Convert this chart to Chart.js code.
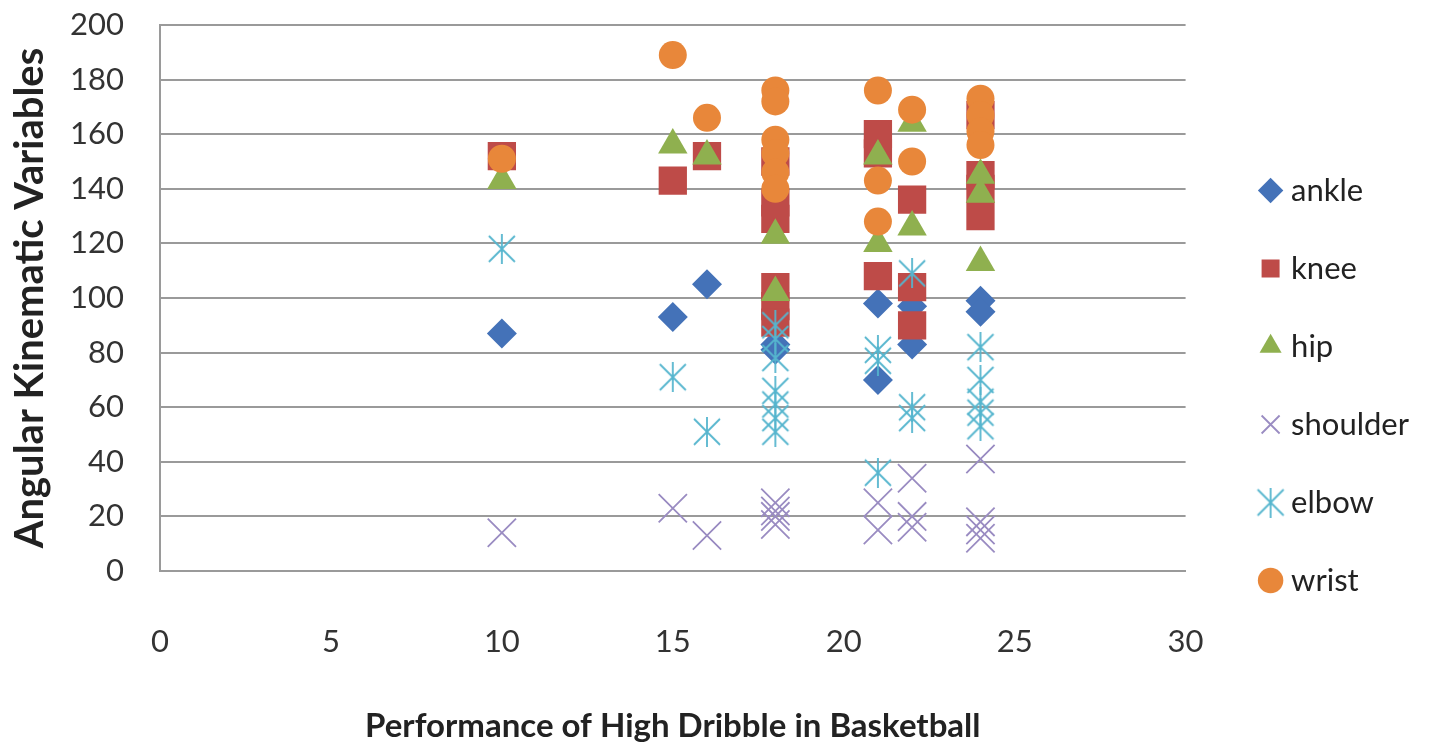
<!DOCTYPE html>
<html>
<head>
<meta charset="utf-8">
<script src="https://cdn.jsdelivr.net/npm/chart.js@4/dist/chart.umd.min.js"></script>
<style>
  html, body { margin: 0; padding: 0; background: #fff; }
  #wrap { width: 1435px; height: 746px; }
</style>
</head>
<body>
<div id="wrap"><canvas id="chart"></canvas></div>
<script>
// --- DATA ---
const ankleX = [10, 15, 16, 18, 18, 21, 21, 22, 22, 24, 24];
const ankleY = [87, 93, 105, 83, 81, 98, 70, 97, 83, 99, 95];

const kneeX = [10, 15, 16, 18, 18, 18, 18, 18, 18, 21, 21, 21, 22, 22, 22, 24, 24, 24, 24];
const kneeY = [152, 143, 152, 150, 135, 129, 104, 97, 91, 160, 153, 108, 136, 104, 90, 167, 145, 140, 130];

const hipX = [10, 15, 16, 18, 18, 21, 21, 22, 22, 24, 24, 24];
const hipY = [143, 156, 152, 123, 102, 152, 120, 164, 126, 145, 138, 113];

const shoulderX = [10, 15, 16, 18, 18, 18, 18, 21, 21, 22, 22, 22, 24, 24, 24, 24];
const shoulderY = [14, 23, 13, 25, 22, 20, 17, 25, 15, 34, 20, 16, 41, 18, 15, 12];

const elbowX = [10, 15, 16, 18, 18, 18, 18, 18, 18, 18, 21, 21, 21, 22, 22, 22, 24, 24, 24, 24, 24];
const elbowY = [118, 71, 51, 90, 85, 78, 66, 61, 56, 51, 81, 77, 36, 109, 60, 56, 82, 70, 62, 58, 53];

const wristX = [10, 15, 16, 18, 18, 18, 18, 18, 18, 21, 21, 21, 22, 22, 24, 24, 24, 24];
const wristY = [151, 189, 166, 176, 172, 158, 153, 146, 140, 176, 143, 128, 169, 150, 173, 167, 161, 156];

const xTicks = [0, 5, 10, 15, 20, 25, 30];
const yTicks = [0, 20, 40, 60, 80, 100, 120, 140, 160, 180, 200];

// --- CONFIG ---
const FONT = 'Lato, "Open Sans", sans-serif';
const GRID = '#9a9a9a';
const TEXT = '#333333';
const NONE = 'rgba(0,0,0,0)';

// excel-like asterisk (X plus vertical bar)
function makeAsterisk(color, size) {
    const c = document.createElement('canvas');
    c.width = size; c.height = size;
    const g = c.getContext('2d');
    g.strokeStyle = color;
    g.lineWidth = 1.8;
    const m = 2, s = size - 2;
    g.beginPath();
    g.moveTo(m, m); g.lineTo(s, s);
    g.moveTo(s, m); g.lineTo(m, s);
    g.moveTo(size / 2, 0); g.lineTo(size / 2, size);
    g.stroke();
    return c;
}

function pts(xs, ys) {
    return xs.map((x, i) => ({ x: x, y: ys[i] }));
}

function series(label, xs, ys, style, color, radius, order, extra) {
    return Object.assign({
        label: label,
        data: pts(xs, ys),
        pointStyle: style,
        backgroundColor: color,
        borderColor: color,
        pointRadius: radius,
        pointHoverRadius: radius,
        borderWidth: 0,
        showLine: false,
        order: order
    }, extra || {});
}

const elbowMark = makeAsterisk('#55b5ce', 30);

const datasets = [
    series('ankle', ankleX, ankleY, 'rectRot', '#4472b8', 15, 6),
    series('knee', kneeX, kneeY, 'rect', '#be4b48', 20, 5),
    series('hip', hipX, hipY, 'triangle', '#8fb04f', 17, 4),
    series('shoulder', shoulderX, shoulderY, 'crossRot', '#9a8cc2', 20, 3, { borderWidth: 1.8 }),
    series('elbow', elbowX, elbowY, elbowMark, '#55b5ce', 15, 2),
    series('wrist', wristX, wristY, 'circle', '#e8873a', 14, 1)
];

new Chart(document.getElementById('chart'), {
    type: 'scatter',
    data: { datasets: datasets },
    options: {
        responsive: true,
        maintainAspectRatio: false,
        animation: false,
        layout: { padding: { top: 25, right: 16, bottom: 0, left: 0 } },
        scales: {
            x: {
                type: 'linear',
                min: 0, max: 30,
                afterBuildTicks: s => { s.ticks = xTicks.map(v => ({ value: v })); },
                afterFit: s => { s.height = 746 - 571; },
                grid: { display: true, drawOnChartArea: false, drawTicks: true, tickLength: 50, tickColor: NONE, color: NONE },
                border: { display: true, color: GRID, width: 2 },
                ticks: { color: TEXT, padding: 2, font: { family: FONT, size: 31 } },
                title: {
                    display: true,
                    text: 'Performance of High Dribble in Basketball',
                    color: '#222',
                    font: { family: FONT, size: 33, weight: 'bold' },
                    padding: { top: 0, bottom: 0 }
                }
            },
            y: {
                type: 'linear',
                min: 0, max: 200,
                afterBuildTicks: s => { s.ticks = yTicks.map(v => ({ value: v })); },
                afterFit: s => { s.width = 160; },
                grid: { color: GRID, lineWidth: 2, drawTicks: true, tickLength: 34, tickColor: NONE },
                border: { display: true, color: GRID, width: 2 },
                ticks: { color: TEXT, padding: 2, font: { family: FONT, size: 31 } },
                title: {
                    display: true,
                    text: 'Angular Kinematic Variables',
                    color: '#222',
                    font: { family: FONT, size: 40, weight: 'bold' },
                    padding: { top: 6, bottom: 0 }
                }
            },
            // empty spacer between plot and legend
            gap: {
                type: 'linear',
                position: 'right',
                display: true,
                afterFit: s => { s.width = 33; },
                grid: { display: false },
                border: { display: false },
                ticks: { display: false }
            }
        },
        plugins: {
            legend: {
                position: 'right',
                labels: {
                    usePointStyle: true,
                    boxHeight: 18,
                    boxWidth: 10,
                    padding: 47,
                    color: '#222',
                    font: { family: FONT, size: 31 },
                    sort: (a, b) => a.datasetIndex - b.datasetIndex
                }
            },
            tooltip: { enabled: false }
        }
    }
});
</script>
</body>
</html>
